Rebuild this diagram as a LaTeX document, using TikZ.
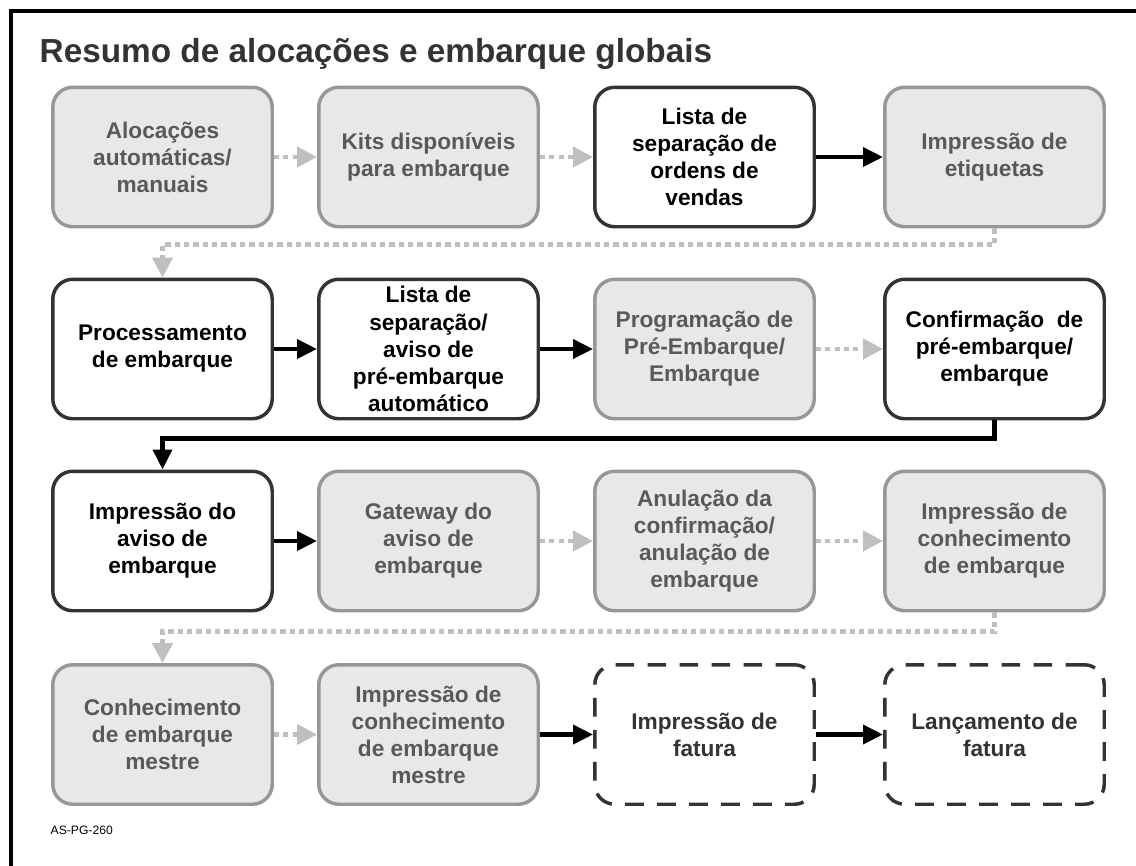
\documentclass[tikz,border=0pt]{standalone}
\usepackage{fontspec}
\setmainfont{Liberation Sans}
\usetikzlibrary{arrows.meta}
\definecolor{gfill}{HTML}{E8E8E8}
\definecolor{gdraw}{HTML}{979797}
\definecolor{gtext}{HTML}{595959}
\definecolor{dk}{HTML}{333333}
\definecolor{dotc}{HTML}{BFBFBF}
\tikzset{
  box/.style={rounded corners=15pt, minimum width=164.6pt, minimum height=104.6pt,
    inner sep=0pt, align=center, font=\fontsize{17}{20.3}\selectfont\bfseries, line width=2.6pt},
  gbox/.style={box, draw=gdraw, fill=gfill, text=gtext},
  kbox/.style={box, draw=dk, fill=white, text=black},
  dbox/.style={box, draw=dk, fill=white, text=dk, dash pattern=on 14pt off 10pt},
  karrow/.style={draw=black, line width=3.4pt, -{Triangle[length=15pt,width=14pt]}},
  garrow/.style={draw=dotc, line width=3.2pt, dash pattern=on 3.8pt off 3.2pt,
    -{Triangle[length=15pt,width=15pt,fill=dotc]}},
  frame/.style={line width=2.5pt, draw=black}
}
\begin{document}
\begin{tikzpicture}[x=0.75pt,y=-0.75pt]
\useasboundingbox (0,0) rectangle (1136,865);
\draw[frame] (11,866) -- (11,11) -- (1137,11);
\node[anchor=base west, text=dk, font=\fontsize{25}{30}\selectfont\bfseries] (title) at (35,62) {Resumo de alocações e embarque globais};
% row 1
\node[gbox] (r1c1) at (162.5,157) {Alocações\\automáticas/\\manuais};
\node[gbox] (r1c2) at (428.5,157) {Kits disponíveis\\para embarque};
\node[kbox] (r1c3) at (704.5,157) {Lista de\\separação de\\ordens de\\vendas};
\node[gbox] (r1c4) at (994.5,157) {Impressão de\\etiquetas};
% row 2
\node[kbox] (r2c1) at (162.5,349) {Processamento\\de embarque};
\node[kbox] (r2c2) at (428.5,349) {Lista de\\separação/\\aviso de\\pré-embarque\\automático};
\node[gbox] (r2c3) at (704.5,349) {Programação de\\Pré-Embarque/\\Embarque};
\node[kbox] (r2c4) at (994.5,349) {Confirmação\ \ de\\pré-embarque/\\embarque};
% row 3
\node[kbox] (r3c1) at (162.5,541) {Impressão do\\aviso de\\embarque};
\node[gbox] (r3c2) at (428.5,541) {Gateway do\\aviso de\\embarque};
\node[gbox] (r3c3) at (704.5,541) {Anulação da\\confirmação/\\anulação de\\embarque};
\node[gbox] (r3c4) at (994.5,541) {Impressão de\\conhecimento\\de embarque};
% row 4
\node[gbox] (r4c1) at (162.5,734.5) {Conhecimento\\de embarque\\mestre};
\node[gbox] (r4c2) at (428.5,734.5) {Impressão de\\conhecimento\\de embarque\\mestre};
\node[dbox] (r4c3) at (704.5,734.5) {Impressão de\\fatura};
\node[dbox] (r4c4) at (994.5,734.5) {Lançamento de\\fatura};
% footnote
\node[anchor=base west, font=\fontsize{9.1}{11}\selectfont, text=black] (foot) at (46,834) {AS-PG-260};
% connectors
\draw[garrow] (r1c1) -- (r1c2);
\draw[garrow] (r1c2) -- (r1c3);
\draw[karrow] (r1c3) -- (r1c4);
\draw[garrow] (r1c4.south) -- ++(0,16) -| (r2c1.north);
\draw[karrow] (r2c1) -- (r2c2);
\draw[karrow] (r2c2) -- (r2c3);
\draw[garrow] (r2c3) -- (r2c4);
\draw[karrow] (r2c4.south) -- ++(0,18) -| (r3c1.north);
\draw[karrow] (r3c1) -- (r3c2);
\draw[garrow] (r3c2) -- (r3c3);
\draw[garrow] (r3c3) -- (r3c4);
\draw[garrow] (r3c4.south) -- ++(0,19) -| (r4c1.north);
\draw[garrow] (r4c1) -- (r4c2);
\draw[karrow] (r4c2) -- (r4c3);
\draw[karrow] (r4c3) -- (r4c4);
\end{tikzpicture}
\end{document}
